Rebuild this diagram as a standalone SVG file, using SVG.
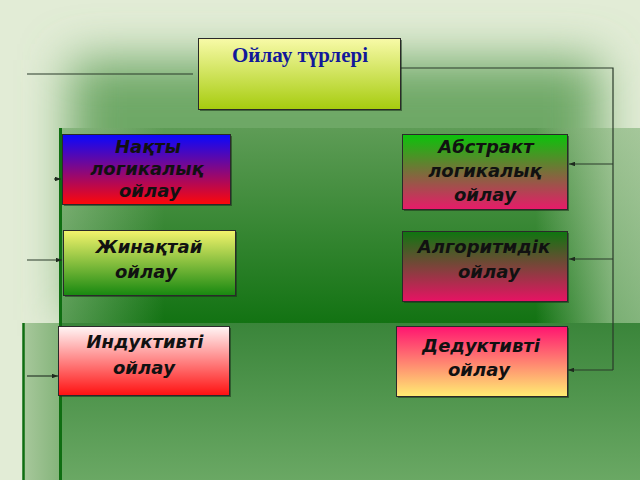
<svg xmlns="http://www.w3.org/2000/svg" width="640" height="480" viewBox="0 0 640 480">
<defs>
  <filter id="soft" x="-30%" y="-30%" width="160%" height="160%"><feGaussianBlur stdDeviation="24"/></filter>
  <linearGradient id="gA" x1="0" y1="0" x2="0" y2="1">
    <stop offset="0" stop-color="#5e9c56"/>
    <stop offset="0.55" stop-color="#137313"/>
    <stop offset="1" stop-color="#3a863a"/>
  </linearGradient>
  <linearGradient id="gAh" x1="0" y1="0" x2="1" y2="0">
    <stop offset="0" stop-color="#dfead2" stop-opacity="0.35"/>
    <stop offset="0.18" stop-color="#dfead2" stop-opacity="0"/>
    <stop offset="0.82" stop-color="#dfead2" stop-opacity="0"/>
    <stop offset="0.95" stop-color="#dfead2" stop-opacity="0.5"/>
    <stop offset="1" stop-color="#dfead2" stop-opacity="0.55"/>
  </linearGradient>
  <linearGradient id="gB" x1="0" y1="0" x2="0" y2="1">
    <stop offset="0" stop-color="#3a853a"/>
    <stop offset="1" stop-color="#6aa864"/>
  </linearGradient>
  <linearGradient id="gBl" x1="0" y1="0" x2="1" y2="0">
    <stop offset="0" stop-color="#a8c89c"/>
    <stop offset="1" stop-color="#84b47a"/>
  </linearGradient>
  <linearGradient id="gTitle" x1="0" y1="0" x2="0" y2="1">
    <stop offset="0" stop-color="#f8faa8"/>
    <stop offset="1" stop-color="#a6cc0e"/>
  </linearGradient>
  <linearGradient id="gNak" x1="0" y1="0" x2="0" y2="1">
    <stop offset="0" stop-color="#0808ff"/>
    <stop offset="1" stop-color="#ff0808"/>
  </linearGradient>
  <linearGradient id="gZhi" x1="0" y1="0" x2="0" y2="1">
    <stop offset="0" stop-color="#f4f46c"/>
    <stop offset="1" stop-color="#178810"/>
  </linearGradient>
  <linearGradient id="gInd" x1="0" y1="0" x2="0" y2="1">
    <stop offset="0" stop-color="#fff6f6"/>
    <stop offset="1" stop-color="#ff1010"/>
  </linearGradient>
  <linearGradient id="gAbs" x1="0" y1="0" x2="0" y2="1">
    <stop offset="0" stop-color="#0ac40a"/>
    <stop offset="1" stop-color="#e81a6a"/>
  </linearGradient>
  <linearGradient id="gAlg" x1="0" y1="0" x2="0" y2="1">
    <stop offset="0" stop-color="#0e7610"/>
    <stop offset="1" stop-color="#e81264"/>
  </linearGradient>
  <linearGradient id="gDed" x1="0" y1="0" x2="0" y2="1">
    <stop offset="0" stop-color="#ff1470"/>
    <stop offset="1" stop-color="#ffee72"/>
  </linearGradient>
  <marker id="arr" viewBox="0 0 8 6" refX="8" refY="3" markerWidth="6" markerHeight="4.5" markerUnits="userSpaceOnUse" orient="auto">
    <path d="M0,0 L8,3 L0,6 Z" fill="#1e2a1e"/>
  </marker>
  <style>
    .box { stroke: #2a2a2a; stroke-width: 1; }
    .shadow { fill: #1a301a; opacity: 0.55; }
    .lbl { font-family: "DejaVu Sans", "Noto Sans", sans-serif; font-weight: bold; font-style: italic; font-size: 18px; fill: #111111; text-anchor: middle; }
    .title { font-family: "Liberation Serif", "Times New Roman", serif; font-weight: bold; font-size: 21px; fill: #12189a; text-anchor: middle; }
    .conn { stroke: #2a3a2a; stroke-width: 1.2; fill: none; }
    .bar { stroke: #0f6e12; fill: none; }
  </style>
</defs>

<!-- background -->
<rect x="0" y="0" width="640" height="480" fill="#e2ecd6"/>
<rect x="70" y="60" width="530" height="260" fill="#6ea866" filter="url(#soft)"/>
<rect x="60" y="128" width="580" height="352" fill="url(#gA)"/>
<rect x="60" y="128" width="580" height="195" fill="url(#gAh)"/>
<rect x="23" y="323" width="37" height="157" fill="url(#gBl)"/>
<rect x="60" y="323" width="580" height="157" fill="url(#gB)"/>
<line class="bar" x1="60.5" y1="128" x2="60.5" y2="480" stroke-width="3"/>
<line class="bar" x1="23.5" y1="323" x2="23.5" y2="480" stroke-width="2.5"/>

<!-- connectors -->
<g id="connectors">
  <line class="conn" x1="27" y1="74" x2="193" y2="74"/>
  <polyline class="conn" points="401,68 613,68 613,370"/>
  <line class="conn" x1="613" y1="164" x2="569" y2="164" marker-end="url(#arr)"/>
  <line class="conn" x1="613" y1="259" x2="569" y2="259" marker-end="url(#arr)"/>
  <line class="conn" x1="613" y1="370" x2="568" y2="370" marker-end="url(#arr)"/>
  <line class="conn" x1="54" y1="179" x2="61" y2="179" marker-end="url(#arr)"/>
  <line class="conn" x1="27" y1="260" x2="62" y2="260" marker-end="url(#arr)"/>
  <line class="conn" x1="27" y1="376" x2="58" y2="376" marker-end="url(#arr)"/>
</g>

<g id="title">
  <rect class="shadow" x="200" y="40" width="202" height="71"/>
  <rect class="box" x="198.5" y="38.5" width="202" height="71" fill="url(#gTitle)"/>
  <text class="title" x="300" y="62">Ойлау түрлері</text>
</g>

<g id="nakty">
  <rect class="shadow" x="64" y="136" width="168" height="70"/>
  <rect class="box" x="62.5" y="134.5" width="168" height="70" fill="url(#gNak)"/>
  <text class="lbl" x="148" y="153">Нақты</text>
  <text class="lbl" x="147" y="175">логикалық</text>
  <text class="lbl" x="150" y="197">ойлау</text>
</g>

<g id="zhinaktai">
  <rect class="shadow" x="65" y="232" width="172" height="65"/>
  <rect class="box" x="63.5" y="230.5" width="172" height="65" fill="url(#gZhi)"/>
  <text class="lbl" x="149" y="253">Жинақтай</text>
  <text class="lbl" x="146" y="278">ойлау</text>
</g>

<g id="induktivti">
  <rect class="shadow" x="60" y="328" width="171" height="69"/>
  <rect class="box" x="58.5" y="326.5" width="171" height="69" fill="url(#gInd)"/>
  <text class="lbl" x="145" y="348">Индуктивті</text>
  <text class="lbl" x="144" y="374">ойлау</text>
</g>

<g id="abstrakt">
  <rect class="shadow" x="404" y="136" width="165" height="75"/>
  <rect class="box" x="402.5" y="134.5" width="165" height="75" fill="url(#gAbs)"/>
  <text class="lbl" x="486" y="153">Абстракт</text>
  <text class="lbl" x="485" y="177">логикалық</text>
  <text class="lbl" x="485" y="201">ойлау</text>
</g>

<g id="algoritmdik">
  <rect class="shadow" x="404" y="233" width="165" height="70"/>
  <rect class="box" x="402.5" y="231.5" width="165" height="70" fill="url(#gAlg)"/>
  <text class="lbl" x="484" y="253">Алгоритмдік</text>
  <text class="lbl" x="489" y="278">ойлау</text>
</g>

<g id="deduktivti">
  <rect class="shadow" x="398" y="328" width="171" height="70"/>
  <rect class="box" x="396.5" y="326.5" width="171" height="70" fill="url(#gDed)"/>
  <text class="lbl" x="481" y="352">Дедуктивті</text>
  <text class="lbl" x="479" y="376">ойлау</text>
</g>
</svg>
